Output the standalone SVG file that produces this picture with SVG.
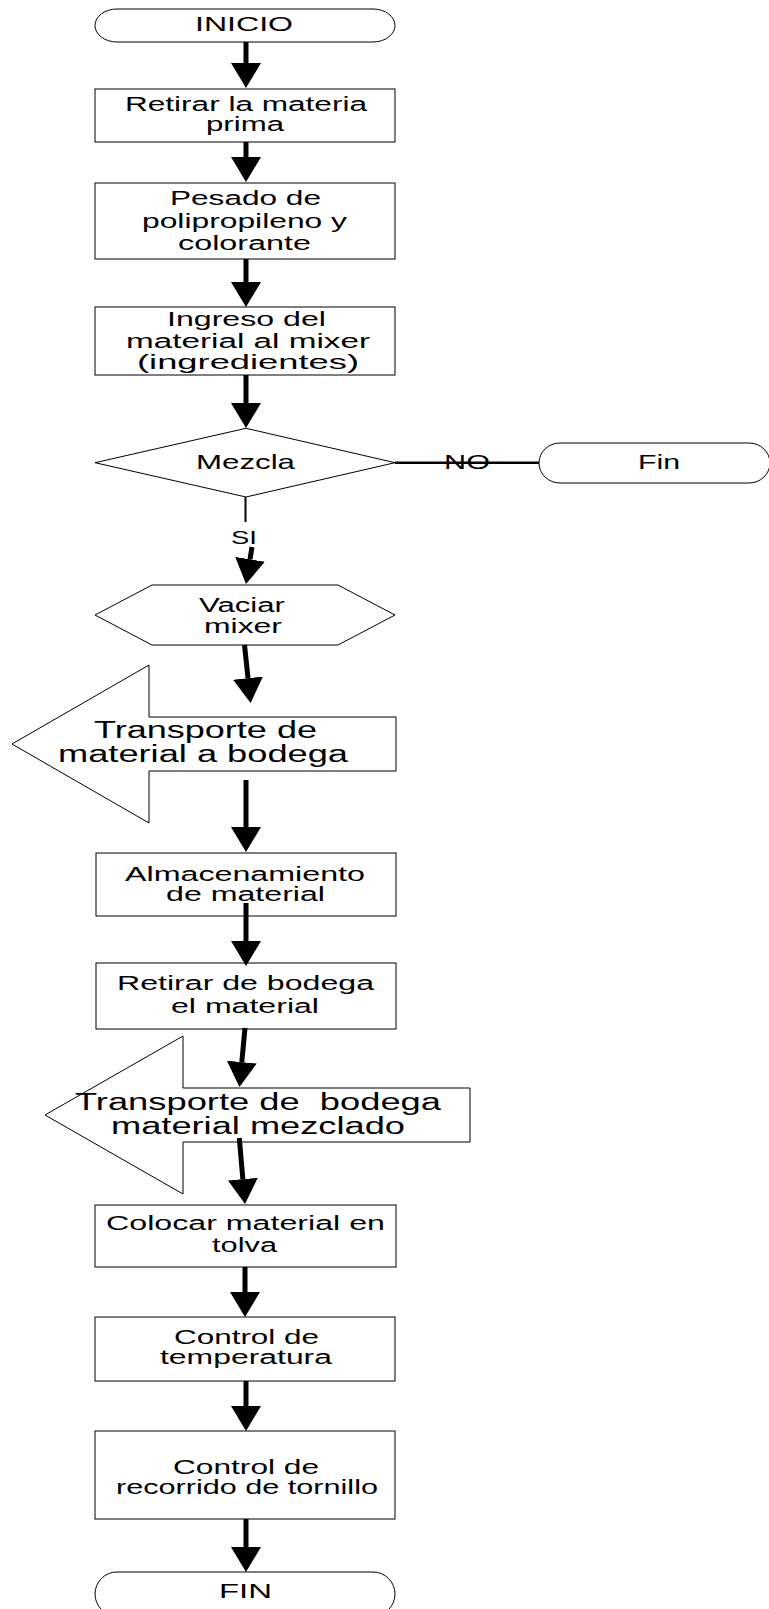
<svg xmlns="http://www.w3.org/2000/svg" width="769" height="1609" viewBox="0 0 769 1609">
<defs>
<style>
.shape{fill:#fff;stroke:#000;stroke-width:1}
.t{font-family:"Liberation Sans",Arial,sans-serif;font-size:20px;fill:#000}
.tb{font-family:"Liberation Sans",Arial,sans-serif;font-size:23px;fill:#000}
.arrow{stroke:#000;stroke-width:5;fill:none;marker-end:url(#ah)}
.thin{stroke:#000;stroke-width:2;fill:none}
</style>
<marker id="ah" markerUnits="userSpaceOnUse" viewBox="0 -15 25 30" markerWidth="25" markerHeight="30" refX="0" refY="0" orient="auto">
<path d="M0,-15 L25,0 L0,15 Z" fill="#000"/>
</marker>
</defs>
<rect x="0" y="0" width="769" height="1609" fill="#fff"/>

<g id="inicio">
<rect class="shape" x="95" y="9" width="300" height="33" rx="22" ry="16.5"/>
<text class="t" x="195" y="31" textLength="98" lengthAdjust="spacingAndGlyphs">INICIO</text>
</g>

<g id="retirar-materia">
<rect class="shape" x="95" y="89" width="300" height="53"/>
<text class="t" x="125" y="110.5" textLength="242" lengthAdjust="spacingAndGlyphs">Retirar la materia</text>
<text class="t" x="206" y="131" textLength="78" lengthAdjust="spacingAndGlyphs">prima</text>
</g>

<g id="pesado">
<rect class="shape" x="95" y="183" width="300" height="76"/>
<text class="t" x="170" y="204.5" textLength="151" lengthAdjust="spacingAndGlyphs">Pesado de</text>
<text class="t" x="142" y="227.5" textLength="205" lengthAdjust="spacingAndGlyphs">polipropileno y</text>
<text class="t" x="178" y="250" textLength="133" lengthAdjust="spacingAndGlyphs">colorante</text>
</g>

<g id="ingreso">
<rect class="shape" x="95" y="307" width="300" height="68"/>
<text class="t" x="167" y="326" textLength="159" lengthAdjust="spacingAndGlyphs">Ingreso del</text>
<text class="t" x="126" y="347.5" textLength="244" lengthAdjust="spacingAndGlyphs">material al mixer</text>
<text class="t" x="137" y="369" textLength="222" lengthAdjust="spacingAndGlyphs">(ingredientes)</text>
</g>

<g id="mezcla">
<polygon class="shape" points="95,462.7 246,428.3 395,462.7 246,497"/>
<text class="t" x="196" y="469" textLength="99" lengthAdjust="spacingAndGlyphs" style="font-size:21px">Mezcla</text>
</g>

<g id="fin-no">
<rect class="shape" x="539" y="443" width="231" height="40" rx="21" ry="20"/>
<text class="t" x="638" y="468.5" textLength="42" lengthAdjust="spacingAndGlyphs">Fin</text>
</g>

<g id="vaciar">
<polygon class="shape" points="95,615 152,585 338,585 395,615 338,645 152,645"/>
<text class="t" x="199" y="611.5" textLength="86" lengthAdjust="spacingAndGlyphs">Vaciar</text>
<text class="t" x="204" y="633" textLength="78" lengthAdjust="spacingAndGlyphs">mixer</text>
</g>

<g id="transporte-bodega">
<polygon class="shape" points="12,744 149,665 149,717 396,717 396,771 149,771 149,823"/>
<text class="tb" x="94" y="738" textLength="223" lengthAdjust="spacingAndGlyphs">Transporte de</text>
<text class="tb" x="58" y="761.5" textLength="290" lengthAdjust="spacingAndGlyphs">material a bodega</text>
</g>

<g id="almacenamiento">
<rect class="shape" x="96" y="853" width="300" height="63"/>
<text class="t" x="125" y="880.5" textLength="240" lengthAdjust="spacingAndGlyphs">Almacenamiento</text>
<text class="t" x="166" y="901" textLength="159" lengthAdjust="spacingAndGlyphs">de material</text>
</g>

<g id="retirar-bodega">
<rect class="shape" x="96" y="963" width="300" height="66"/>
<text class="t" x="117" y="989.5" textLength="257" lengthAdjust="spacingAndGlyphs">Retirar de bodega</text>
<text class="t" x="171" y="1012.5" textLength="148" lengthAdjust="spacingAndGlyphs">el material</text>
</g>

<g id="transporte-mezclado">
<polygon class="shape" points="45,1115 183,1036 183,1088 470,1088 470,1142 183,1142 183,1194"/>
<text class="tb" x="75" y="1110" textLength="366" lengthAdjust="spacingAndGlyphs" xml:space="preserve">Transporte de  bodega</text>
<text class="tb" x="111" y="1134" textLength="294" lengthAdjust="spacingAndGlyphs">material mezclado</text>
</g>

<g id="colocar">
<rect class="shape" x="95" y="1205" width="301" height="62"/>
<text class="t" x="106" y="1230" textLength="279" lengthAdjust="spacingAndGlyphs">Colocar material en</text>
<text class="t" x="212" y="1252" textLength="65" lengthAdjust="spacingAndGlyphs">tolva</text>
</g>

<g id="control-temperatura">
<rect class="shape" x="95" y="1317" width="300" height="64"/>
<text class="t" x="174" y="1343.5" textLength="145" lengthAdjust="spacingAndGlyphs">Control de</text>
<text class="t" x="160" y="1363.5" textLength="172" lengthAdjust="spacingAndGlyphs">temperatura</text>
</g>

<g id="control-tornillo">
<rect class="shape" x="95" y="1431" width="300" height="88"/>
<text class="t" x="173" y="1473.5" textLength="146" lengthAdjust="spacingAndGlyphs">Control de</text>
<text class="t" x="116" y="1493.5" textLength="262" lengthAdjust="spacingAndGlyphs">recorrido de tornillo</text>
</g>

<g id="fin">
<rect class="shape" x="95" y="1572" width="300" height="44" rx="22" ry="22"/>
<text class="t" x="219" y="1598" textLength="53" lengthAdjust="spacingAndGlyphs" style="font-size:21px">FIN</text>
</g>

<g id="connectors">
<line class="arrow" x1="246" y1="42" x2="246" y2="63"/>
<line class="arrow" x1="246" y1="142" x2="246" y2="157"/>
<line class="arrow" x1="246" y1="259" x2="246" y2="282"/>
<line class="arrow" x1="246" y1="375" x2="246" y2="403"/>
<line class="thin" x1="245.5" y1="497" x2="245.5" y2="522"/>
<line class="arrow" x1="252" y1="547" x2="250" y2="559.3"/>
<line class="arrow" x1="244.5" y1="645" x2="248" y2="678.1"/>
<line class="arrow" x1="246" y1="780" x2="246" y2="827"/>
<line class="arrow" x1="246" y1="903" x2="246" y2="941"/>
<line class="arrow" x1="245" y1="1028" x2="241.8" y2="1062.1"/>
<line class="arrow" x1="239.3" y1="1138" x2="242.85" y2="1179.1"/>
<line class="arrow" x1="245" y1="1267" x2="245" y2="1292"/>
<line class="arrow" x1="246" y1="1381" x2="246" y2="1406"/>
<line class="arrow" x1="246" y1="1519" x2="246" y2="1547"/>
<line class="thin" x1="395" y1="462.7" x2="539" y2="462.7" style="stroke-width:2.5"/>
<text class="t" x="444" y="468.5" textLength="46" lengthAdjust="spacingAndGlyphs" style="font-size:21px">NO</text>
<text class="t" x="231" y="544" textLength="26" lengthAdjust="spacingAndGlyphs" style="font-size:19px">SI</text>
</g>
</svg>
